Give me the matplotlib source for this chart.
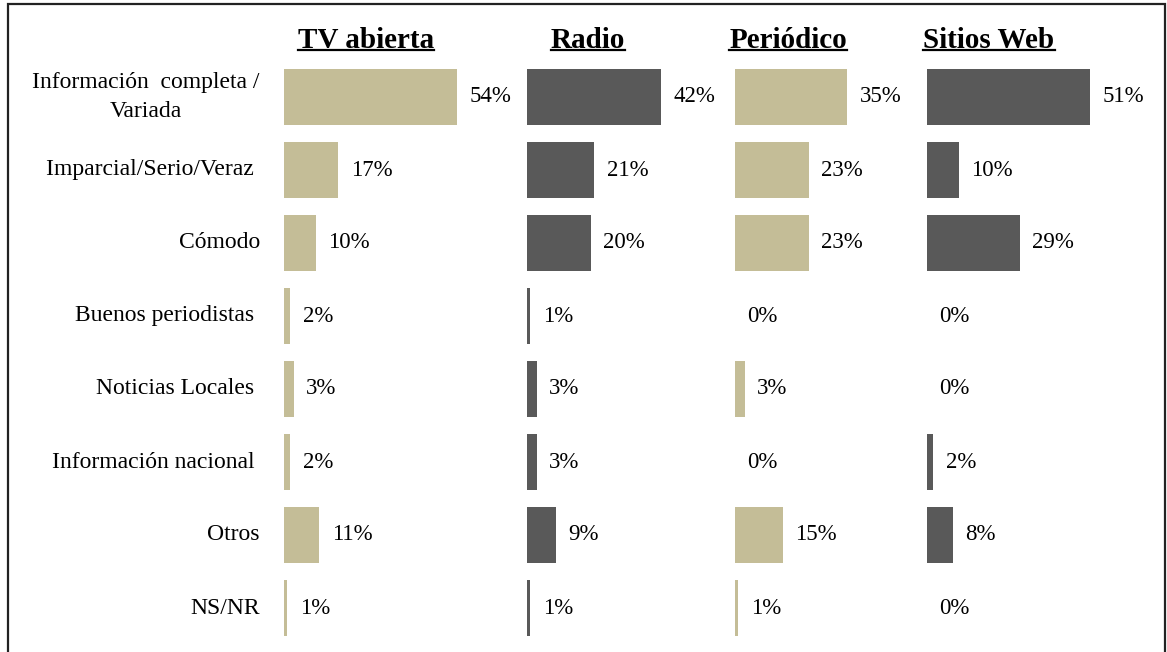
import matplotlib.pyplot as plt
from matplotlib.patches import Rectangle
from matplotlib.lines import Line2D

plt.rcParams['font.family'] = ['Liberation Serif', 'DejaVu Serif']

categories = ['Información  completa /\nVariada', 'Imparcial/Serio/Veraz ', 'Cómodo',
              'Buenos periodistas ', 'Noticias Locales ', 'Información nacional ',
              'Otros', 'NS/NR']
tv = [54, 17, 10, 2, 3, 2, 11, 1]
radio = [42, 21, 20, 1, 3, 3, 9, 1]
periodico = [35, 23, 23, 0, 3, 0, 15, 1]
web = [51, 10, 29, 0, 0, 2, 8, 0]
titles = ['TV abierta', 'Radio', 'Periódico', 'Sitios Web']

tan = '#C4BD97'
gray = '#595959'
series = [tv, radio, periodico, web]
colors = [tan, gray, tan, gray]

W, H = 1167, 652
fig = plt.figure(figsize=(W / 100, H / 100), dpi=100)

lefts = [284, 527, 735, 927]
title_x = [366, 588, 788, 989]
ax_w = 200
top_px, bot_px = 60.5, 644.5
y = list(range(len(categories)))

for i, (vals, col) in enumerate(zip(series, colors)):
    ax = fig.add_axes([lefts[i] / W, 1 - bot_px / H, ax_w / W, (bot_px - top_px) / H])
    ax.barh(y, vals, height=0.77, color=col)
    ax.set_xlim(0, ax_w / 3.2)
    ax.set_ylim(len(categories) - 0.5, -0.5)
    ax.axis('off')
    for yy, v in zip(y, vals):
        ax.annotate(f'{v}%', (v, yy), xytext=(9, 0), textcoords='offset points',
                    ha='left', va='center', fontsize=16.5, clip_on=False)
    if i == 0:
        for yy, c in zip(y, categories):
            ax.text(-24 / ax_w, yy, c, transform=ax.get_yaxis_transform(),
                    ha='right', va='center', multialignment='center',
                    fontsize=17, linespacing=1.55)

title_texts = []
for t, tx in zip(titles, title_x):
    title_texts.append(fig.text(tx / W, 1 - 40 / H, t, ha='center', va='center',
                                fontsize=21, fontweight='bold'))

fig.patches.append(Rectangle((8 / W, -0.02), (1165 - 8) / W, 1.02 - 4 / H,
                             transform=fig.transFigure, fill=False,
                             edgecolor='#222222', linewidth=1.6))

fig.canvas.draw()
r = fig.canvas.get_renderer()
for t in title_texts:
    bb = t.get_window_extent(r)
    yline = (bb.y0 + 3.5) / H
    fig.lines.append(Line2D([bb.x0 / W, bb.x1 / W], [yline, yline],
                            transform=fig.transFigure, color='black', linewidth=1.6))

fig.savefig('out.png', dpi=100)
